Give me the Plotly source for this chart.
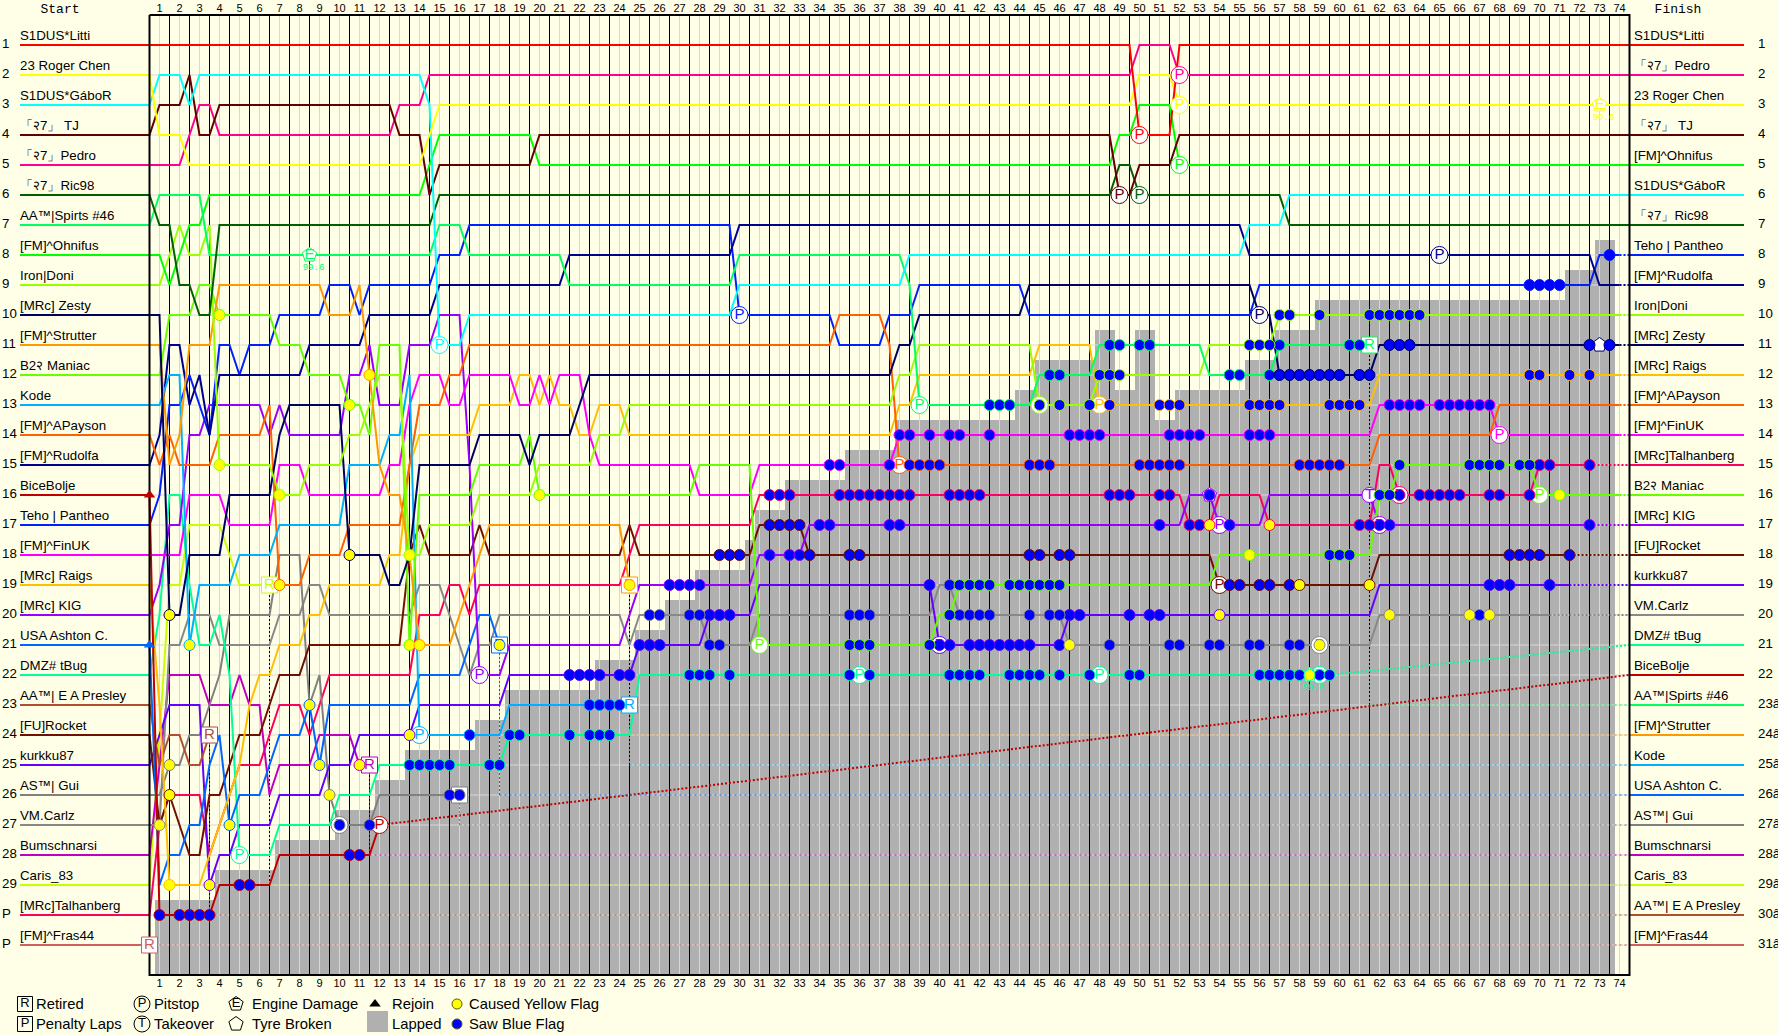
import plotly.graph_objects as go

# positions are stored as (half lap index, race position), held until the next pair
litti = [(0,1),(99,4),(103,1)]
chen = [(0,2),(1,4),(4,5),(28,4),(29,3),(99,2),(103,3)]
gabor = [(0,3),(1,2),(4,3),(5,2),(28,3),(29,11),(32,10),(59,9),(76,8),(110,7),(114,6)]
tj = [(0,4),(1,3),(4,2),(5,4),(7,3),(25,4),(28,6),(29,5),(39,4),(97,6),(99,5),(103,4)]
pedro = [(0,5),(4,4),(5,3),(7,4),(25,3),(28,2),(99,1),(103,2)]
ric98 = [(0,6),(1,7),(3,9),(5,10),(7,7),(29,6),(97,5),(99,6),(114,7)]
spirts = [(0,7),(1,6),(6,8),(29,7),(32,8),(42,9),(59,8),(76,9),(77,13),(89,12),(95,11),(106,12),(113,11)]
ohnifus = [(0,8),(2,9),(3,8),(4,7),(6,6),(28,5),(29,4),(39,5),(97,4),(99,3),(103,5)]
doni = [(0,9),(2,8),(3,7),(4,8),(6,7),(7,15),(13,16),(16,15),(20,14),(22,13),(23,12),(26,18),(28,17),(33,16),(39,15),(45,14),(48,13),(75,12),(77,11),(89,13),(95,12),(106,11),(113,10)]
zesty = [(0,10),(2,20),(4,18),(8,16),(13,14),(14,13),(20,18),(24,19),(26,18),(27,15),(33,14),(38,15),(39,14),(43,13),(44,12),(75,11),(77,10),(88,9),(111,10),(113,12),(123,11)]
strutter = [(0,11),(2,15),(3,14),(4,11),(7,9),(18,10),(21,9),(22,12),(23,15),(24,16),(26,18),(27,21),(31,20),(32,19),(33,18),(34,17),(48,19)]
maniac = [(0,12),(2,10),(5,9),(7,10),(13,11),(16,12),(20,13),(22,14),(23,11),(26,21),(27,16),(33,15),(38,14),(39,16),(55,15),(61,21),(79,20),(81,19),(107,18),(123,16),(125,15),(139,16)]
kode = [(0,13),(2,12),(4,21),(5,19),(9,18),(13,17),(20,15),(24,14),(26,12),(27,24),(36,23)]
apayson = [(0,14),(1,15),(2,14),(3,15),(7,14),(12,13),(13,19),(16,18),(20,17),(26,15),(27,13),(30,12),(32,11),(69,10),(74,11),(75,15),(123,14),(135,13)]
rudolfa = [(0,15),(1,14),(2,11),(4,13),(5,12),(6,14),(7,12),(16,11),(22,10),(29,9),(42,8),(59,7),(110,8),(145,9)]
bice = [(0,16),(1,30),(7,29),(13,28),(23,27)]
teho = [(0,17),(1,16),(2,13),(4,12),(5,13),(6,14),(7,11),(9,12),(10,11),(13,10),(18,9),(21,10),(22,9),(29,8),(32,7),(59,10),(69,11),(74,10),(77,9),(88,10),(111,9),(145,8)]
finuk = [(0,18),(4,16),(8,17),(13,15),(16,16),(24,15),(26,13),(27,12),(30,13),(32,12),(37,13),(39,12),(40,13),(41,12),(44,14),(45,15),(55,16),(61,15),(75,14),(123,13),(135,14)]
raigs = [(0,19),(1,23),(2,29),(6,28),(7,27),(8,26),(9,25),(10,23),(11,22),(13,21),(16,20),(18,19),(24,18),(26,15),(27,14),(33,13),(37,12),(39,13),(40,12),(41,13),(43,14),(45,13),(48,14),(75,13),(77,12),(89,11),(95,13),(123,12)]
kig = [(0,20),(1,19),(2,17),(4,14),(6,13),(12,14),(13,13),(14,14),(20,12),(22,11),(23,13),(26,11),(29,10),(32,15),(33,22),(36,21),(48,20),(49,19),(61,18),(66,17),(104,16),(107,17),(112,16),(123,17)]
ashton = [(0,21),(1,29),(2,28),(4,27),(6,25),(7,24),(8,27),(9,26),(12,25),(13,24),(16,23),(17,25),(18,23),(27,22),(32,21),(33,20),(35,21)]
tbug = [(0,22),(1,20),(2,16),(4,19),(5,21),(7,20),(8,22),(9,28),(13,27),(19,26),(23,25),(36,24),(49,22)]
presley = [(0,23),(1,25),(2,24),(4,25),(6,24)]
rocket = [(0,24),(1,27),(2,26),(3,27),(4,28),(6,26),(8,25),(9,24),(12,23),(13,22),(16,21),(26,18),(27,17),(28,18),(33,17),(34,18),(48,17),(49,18),(61,17),(66,18),(107,19),(123,18)]
kurkku = [(0,25),(1,24),(2,23),(6,29),(7,28),(9,27),(13,26),(18,25),(21,24),(27,23),(36,22),(49,21),(56,20),(61,19),(79,21),(92,20),(123,19)]
gui = [(0,26),(2,25),(4,24),(6,23),(7,22),(8,20),(13,18),(16,23),(17,22),(18,26),(19,27),(23,26)]
carlz = [(0,27),(2,21),(4,20),(7,21),(13,20),(16,19),(18,20),(27,19),(30,20),(31,21),(32,22),(33,21),(35,20),(48,21),(49,20),(56,21),(61,20),(79,19),(81,20),(92,21),(123,20)]
bums = [(0,28),(1,25),(2,22),(6,23),(9,22),(10,23),(12,26),(13,25),(17,24),(21,25)]
caris = [(0,29),(1,24),(2,19),(4,17),(8,18),(9,19)]
talhan = [(0,30),(1,27),(2,26),(6,28),(7,27),(8,26),(9,25),(12,24),(13,23),(16,24),(17,23),(18,22),(27,20),(30,19),(32,20),(33,19),(48,18),(49,17),(61,16),(104,17),(107,16),(112,17),(123,15),(125,16),(139,15)]
fras = [(0,31)]

paths = dict(litti=litti, chen=chen, gabor=gabor, tj=tj, pedro=pedro, ric98=ric98, spirts=spirts, ohnifus=ohnifus,
             doni=doni, zesty=zesty, strutter=strutter, maniac=maniac, kode=kode, apayson=apayson, rudolfa=rudolfa,
             bice=bice, teho=teho, finuk=finuk, raigs=raigs, kig=kig, ashton=ashton, tbug=tbug, presley=presley,
             rocket=rocket, kurkku=kurkku, gui=gui, carlz=carlz, bums=bums, caris=caris, talhan=talhan, fras=fras)

names = dict(litti="S1DUS*Litti", chen="23 Roger Chen", gabor="S1DUS*GáboR", tj="「२7」 TJ", pedro="「२7」Pedro",
             ric98="「२7」Ric98", spirts="AA™|Spirts #46", ohnifus="[FM]^Ohnifus", doni="Iron|Doni", zesty="[MRc] Zesty",
             strutter="[FM]^Strutter", maniac="B2२ Maniac", kode="Kode", apayson="[FM]^APayson", rudolfa="[FM]^Rudolfa",
             bice="BiceBolje", teho="Teho | Pantheo", finuk="[FM]^FinUK", raigs="[MRc] Raigs", kig="[MRc] KIG",
             ashton="USA Ashton C.", tbug="DMZ# tBug", presley="AA™| E A Presley", rocket="[FU]Rocket", kurkku="kurkku87",
             gui="AS™| Gui", carlz="VM.Carlz", bums="Bumschnarsi", caris="Caris_83", talhan="[MRc]Talhanberg", fras="[FM]^Fras44")

colors = dict(litti="#ff0000", chen="#ffff00", gabor="#00ffff", tj="#600000", pedro="#ff0090", ric98="#006000",
              spirts="#00ff60", ohnifus="#00ff00", doni="#99ff00", zesty="#000060", strutter="#ff9900", maniac="#66ff00",
              kode="#00b0ff", apayson="#ff6000", rudolfa="#000090", bice="#c00000", teho="#0020ff", finuk="#ff00ff",
              raigs="#ffc000", kig="#9900ff", ashton="#0066ff", tbug="#00ff99", presley="#b05030", rocket="#701000",
              kurkku="#6600ff", gui="#808080", carlz="#888888", bums="#c000c0", caris="#c8ff00", talhan="#ff0060", fras="#d06060")

finish_order = ["litti","pedro","chen","tj","ohnifus","gabor","ric98","teho","rudolfa","doni","zesty","raigs","apayson",
                "finuk","talhan","maniac","kig","rocket","kurkku","carlz","tbug","bice","spirts","strutter","kode",
                "ashton","gui","bums","caris","presley","fras"]
start_numbers = [str(i) for i in range(1, 30)] + ["P", "P"]
finish_numbers = [str(i) for i in range(1, 23)] + [f"{i}â" for i in range(23, 32)]
laps = list(range(1, 75))

retired = dict(fras=0, presley=6, caris=12, bums=22, gui=31, ashton=35, strutter=48, kode=48, spirts=122)
# half lap where the solid line stops, after it only a dotted tail to the flag
last_seen = dict(teho=147, rudolfa=147, doni=147, zesty=147, raigs=147, apayson=147, finuk=147, maniac=147,
                 talhan=144, kig=144, rocket=142, kurkku=142, carlz=140, bice=23, tbug=118)

pitstops = [("gabor",29),("spirts",77),("teho",59),("litti",99),("pedro",103),("chen",103),("ohnifus",103),("tj",97),
            ("ric98",99),("zesty",111),("rudolfa",129),("finuk",135),("apayson",75),("rocket",107),("kig",107),("kig",33),
            ("maniac",61),("tbug",9),("tbug",71),("tbug",95),("tbug",117),("talhan",125),("maniac",139),("bice",23),
            ("kode",27),("raigs",95),("doni",89),("gui",19),("kurkku",79),("carlz",117),("kig",123)]
engine_damage = [("spirts",16,"99.6"),("chen",145,"99.6")]
tyre_broken = [("tbug",116,"99.8"),("kig",106,""),("zesty",145,"")]
takeovers = [("kig",122)]
rejoins = ["bice","ashton"]

blue_flags = dict(
    bice=[1,3,4,5,6,9,10,20,21],
    gui=[19,22,30,31],
    tbug=[26,27,28,29,30,34,35,36,37,42,44,45,46,54,55,56,58,70,72,80,81,82,83,86,87,88,89,91,94,98,99,111,112,113,114,115,117,118],
    kode=[32,44,45,46,47],
    kurkku=[42,43,44,45,47,48,49,50,51,56,57,58,78,79,80,82,83,84,85,86,87,88,91,92,93,98,100,101,134,135,136,140],
    carlz=[50,51,54,55,56,57,70,71,72,80,81,82,83,84,88,90,91,96,102,103,106,107,110,111,114,115,133],
    kig=[52,53,54,55,62,64,65,67,68,74,75,101,106,108,123,124,144],
    rocket=[57,58,59,62,63,64,65,66,70,71,88,89,91,92,108,109,111,112,114,136,137,138,139,142],
    talhan=[62,63,64,69,70,71,72,73,74,75,76,80,81,82,83,96,97,98,101,102,104,105,121,122,125,127,128,129,130,131,134,135,138,139,140,144],
    finuk=[68,69,74,75,76,78,80,81,84,92,93,94,95,102,103,104,105,110,111,112,124,125,126,127,129,130,131,132,133,134],
    apayson=[76,77,78,79,88,89,90,99,100,101,102,103,115,116,117,118,119],
    maniac=[70,71,72,78,80,81,82,83,84,86,87,88,89,90,91,118,119,120,123,124,125,132,133,134,135,137,138],
    spirts=[84,85,86,90,91,96,97,99,100,108,109,112,113,120,121],
    doni=[89,91,94,95,96,97,110,111,112,113,114,117,122,123,124,125,126,127],
    raigs=[96,101,102,103,110,111,112,113,118,119,120,121,138,139,142,144],
    zesty=[113,114,115,116,117,118,119,121,122,124,125,126,144,146],
    teho=[138,139,140,141,146],
)
yellow_flags = dict(
    maniac=[7,20,26,39,110,141], doni=[7,13,26], zesty=[2,20], kode=[4], apayson=[13], strutter=[22,27,48],
    ashton=[8,16,17,35], carlz=[1,92,117,124,132,134], rocket=[2,115,122], gui=[2,18], raigs=[2],
    kurkku=[6,26,107], bums=[21], talhan=[106,112], tbug=[116],
)

# half lap where the lapped zone starts, and the row line it starts under
lapped_steps = [(1,29.5),(7,28.5),(13,27.5),(19,26.5),(23,25.5),(26,24.5),(33,23.5),(36,22.5),(45,21.5),(49,20.5),
                (52,19.5),(55,18.5),(60,17.5),(61,16.5),(64,15.5),(70,14.5),(75,13.5),(87,12.5),(89,11.5),(95,10.5),
                (97,12.5),(99,10.5),(101,13.5),(103,12.5),(110,11.5),(113,10.5),(117,9.5),(142,8.5),(145,7.5)]
lapped_end = 146

FONT = "Liberation Sans"
BG = "#ffffe8"
GRID = "#d8d8d8"


def X(px):
    return (px - 149.5) / 10


def Y(px):
    return (px - 15) / 30


def row_at(path, k):
    row = path[0][1]
    for step, value in path:
        if step <= k:
            row = value
    return row


def solid_end(key):
    if key in retired:
        return retired[key]
    return last_seen.get(key, 148)


def add_text(fig, xs, ys, texts, size, color="black", family=FONT, pos="middle right"):
    fig.add_trace(go.Scatter(x=xs, y=ys, text=texts, mode="text", textposition=pos,
                             textfont=dict(size=size, color=color, family=family),
                             showlegend=False, hoverinfo="skip"))


fig = go.Figure()

# lapped zone
lap_k = list(range(1, lapped_end + 1))
lap_top = [row_at(lapped_steps, k) for k in lap_k]
fig.add_trace(go.Bar(x=lap_k, base=lap_top, y=[32 - t for t in lap_top], width=1, marker=dict(color="#b0b0b0", line_width=0),
                     showlegend=False, hoverinfo="skip"))

# grid
hx, hy = [], []
for r in range(1, 32):
    hx += [0, 148, None]
    hy += [r, r, None]
fig.add_trace(go.Scatter(x=hx, y=hy, mode="lines", line=dict(color=GRID, width=1), showlegend=False, hoverinfo="skip"))
for start, color in ((1, GRID), (2, "black")):
    vx, vy = [], []
    for k in range(start, 148, 2):
        vx += [k, k, None]
        vy += [Y(15), 32, None]
    fig.add_trace(go.Scatter(x=vx, y=vy, mode="lines", line=dict(color=color, width=1),
                             showlegend=False, hoverinfo="skip"))

# dotted parts first so the solid lines sit on top
for key in paths:
    path = paths[key]
    final = finish_order.index(key) + 1
    end = solid_end(key)
    if key in retired:
        fig.add_trace(go.Scatter(x=[end, end], y=[row_at(path, end), final], mode="lines",
                                 line=dict(color=colors[key], width=1, dash="2px,2px"), showlegend=False, hoverinfo="skip"))
        fig.add_trace(go.Scatter(x=[end, 148], y=[final, final], mode="lines",
                                 line=dict(color=colors[key], width=1, dash="2px,3px"), showlegend=False, hoverinfo="skip"))
    elif end < 148:
        fig.add_trace(go.Scatter(x=[end, 148], y=[row_at(path, end), final], mode="lines",
                                 line=dict(color=colors[key], width=2, dash="2px,2px"), showlegend=False, hoverinfo="skip"))

# position lines, with the stubs that run out to the names
for key in reversed(list(paths)):
    path = paths[key]
    ks = list(range(0, solid_end(key) + 1))
    rows = [row_at(path, k) for k in ks]
    fig.add_trace(go.Scatter(x=[X(20)] + ks, y=[rows[0]] + rows, mode="lines", line=dict(color=colors[key], width=2),
                             showlegend=False, hoverinfo="skip"))

for i, key in enumerate(finish_order):
    fig.add_trace(go.Scatter(x=[148, X(1744)], y=[i + 1, i + 1], mode="lines", line=dict(color=colors[key], width=2),
                             showlegend=False, hoverinfo="skip"))

# frame
fig.add_trace(go.Scatter(x=[0, 148, 148, 0, 0], y=[Y(15), Y(15), Y(975), Y(975), Y(15)], mode="lines",
                         line=dict(color="black", width=2), showlegend=False, hoverinfo="skip"))


def add_badges(items, symbol, size, label):
    xs = [it[1] for it in items]
    ys = [row_at(paths[it[0]], it[1]) for it in items]
    cols = [colors[it[0]] for it in items]
    fig.add_trace(go.Scatter(x=xs, y=ys, mode="markers+text", text=[label] * len(items), textposition="middle center",
                             textfont=dict(size=15, color=cols, family=FONT),
                             marker=dict(symbol=symbol, size=size, color="white", line=dict(color=cols, width=1)),
                             showlegend=False, hoverinfo="skip"))


add_badges(pitstops, "circle", 17, "P")
add_badges(engine_damage, "pentagon", 15, "E")
add_badges(tyre_broken, "pentagon", 15, "")
add_badges(takeovers, "circle", 15, "T")
add_badges([(k, v) for k, v in retired.items()], "square", 16, "R")

# flags go over the badges
for flags, fill, size in ((blue_flags, "#0000ff", 11), (yellow_flags, "#ffff00", 11)):
    xs, ys, cols = [], [], []
    for key, ks in flags.items():
        for k in ks:
            xs.append(k)
            ys.append(row_at(paths[key], k))
            cols.append(colors[key])
    fig.add_trace(go.Scatter(x=xs, y=ys, mode="markers", marker=dict(symbol="circle", size=size, color=fill, line=dict(color=cols, width=1)),
                             showlegend=False, hoverinfo="skip"))

# rejoin triangles
fig.add_trace(go.Scatter(x=[0.0] * len(rejoins), y=[row_at(paths[k], 0) for k in rejoins], mode="markers",
                         marker=dict(symbol="triangle-up", size=10, color=[colors[k] for k in rejoins]),
                         showlegend=False, hoverinfo="skip"))

# speed captions
for key, k, caption in engine_damage + tyre_broken:
    if caption:
        add_text(fig, [k + 0.4], [row_at(paths[key], k) + 13 / 30], [caption], 9, colors[key], "Liberation Mono", "middle center")

# names and numbers
keys = list(paths)
add_text(fig, [X(20)] * 31, [row_at(paths[k], 0) - 8.5 / 30 for k in keys], [names[k] for k in keys], 13.3)
add_text(fig, [X(1634)] * 31, [r + 1 - 8.5 / 30 for r in range(31)], [names[k] for k in finish_order], 13.3)
add_text(fig, [X(2)] * 31, [r + 1 for r in range(31)], start_numbers, 13.3)
add_text(fig, [X(1758)] * 31, [r + 1 for r in range(31)], finish_numbers, 13.3)
add_text(fig, [2 * n - 1 for n in laps], [Y(9)] * 74, [str(n) for n in laps], 11, pos="middle center")
add_text(fig, [2 * n - 1 for n in laps], [Y(984)] * 74, [str(n) for n in laps], 11, pos="middle center")
add_text(fig, [X(60), X(1678)], [Y(10), Y(10)], ["Start", "Finish"], 13, family="Liberation Mono", pos="middle center")

# legend
for px, py, symbol, label, size in ((25, 1004, "square", "R", 15), (25, 1024, "square", "P", 15),
                                    (142, 1004, "circle", "P", 16), (142, 1024, "circle", "T", 16),
                                    (236, 1004, "pentagon", "E", 15), (236, 1024, "pentagon", "", 15)):
    fig.add_trace(go.Scatter(x=[X(px)], y=[Y(py)], mode="markers+text", text=[label], textposition="middle center",
                             textfont=dict(size=13, color="black", family=FONT),
                             marker=dict(symbol=symbol, size=size, color=BG, line=dict(color="black", width=1)),
                             showlegend=False, hoverinfo="skip"))
fig.add_trace(go.Scatter(x=[X(375)], y=[Y(1004)], mode="markers", marker=dict(symbol="triangle-up", size=10, color="black"),
                         showlegend=False, hoverinfo="skip"))
fig.add_trace(go.Scatter(x=[X(377.5)], y=[Y(1021.5)], mode="markers", marker=dict(symbol="square", size=21, color="#b0b0b0"),
                         showlegend=False, hoverinfo="skip"))
fig.add_trace(go.Scatter(x=[X(457), X(457)], y=[Y(1004), Y(1024)], mode="markers",
                         marker=dict(size=10, color=["#ffff00", "#0000ff"], line=dict(color="#606000", width=1)),
                         showlegend=False, hoverinfo="skip"))
legend_x = [36, 36, 154, 154, 252, 252, 392, 392, 469, 469]
legend_y = [1005.5, 1025.5] * 5
legend_labels = ["Retired", "Penalty Laps", "Pitstop", "Takeover", "Engine Damage", "Tyre Broken", "Rejoin", "Lapped",
                 "Caused Yellow Flag", "Saw Blue Flag"]
add_text(fig, [X(v) for v in legend_x], [Y(v) for v in legend_y], legend_labels, 14.8)

fig.update_layout(width=1778, height=1035, margin=dict(l=0, r=0, t=0, b=0), paper_bgcolor=BG, plot_bgcolor=BG,
                  showlegend=False, bargap=0,
                  xaxis=dict(visible=False, range=[X(0), X(1778)], fixedrange=True),
                  yaxis=dict(visible=False, range=[Y(1035), Y(0)], fixedrange=True))

fig.write_html("out.html", config=dict(displayModeBar=False),
               post_script="document.body.style.margin='0';document.body.style.overflow='hidden';")
